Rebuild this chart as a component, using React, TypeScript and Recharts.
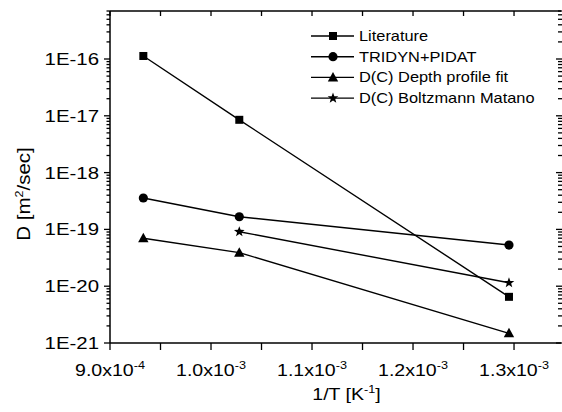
import React from 'react';
import { LineChart, Line, XAxis, YAxis, Legend } from 'recharts';

const FONT = '"Liberation Sans", Arial, Helvetica, sans-serif';

// 1/T values (K^-1) of the three measurement temperatures
const invT = [9.33e-4, 1.028e-3, 1.295e-3];

// diffusion coefficients D [m^2/sec]
const literature = [1.13e-16, 8.5e-18, 6.5e-21];
const tridynPidat = [3.57e-19, 1.67e-19, 5.3e-20];
const depthProfileFit = [7.0e-20, 3.9e-20, 1.48e-21];
const boltzmannMatano = [null, 9.1e-20, 1.15e-20];

const seriesNames = ['Literature', 'TRIDYN+PIDAT', 'D(C) Depth profile fit', 'D(C) Boltzmann Matano'];
const seriesMarkers = ['square', 'circle', 'triangle', 'star'];

const xMajorTicks = [9.0e-4, 1.0e-3, 1.1e-3, 1.2e-3, 1.3e-3];
const xMinorTicks = [9.5e-4, 1.05e-3, 1.15e-3, 1.25e-3];
const yMajorTicks = [1e-21, 1e-20, 1e-19, 1e-18, 1e-17, 1e-16];

const xDomain = [9.0e-4, 1.3465e-3];
const yDomain = [1e-21, 7e-16];

const data = invT.map((x, i) => ({
  x,
  literature: literature[i],
  tridyn: tridynPidat[i],
  depth: depthProfileFit[i],
  boltzmann: boltzmannMatano[i],
}));

// minor log ticks 2..9 x 10^n inside the domain
const yTicks: number[] = [];
yMajorTicks.forEach((m) => {
  yTicks.push(m);
  for (let k = 2; k <= 9; k++) {
    const v = k * m;
    if (v <= yDomain[1]) yTicks.push(v);
  }
});
const xTicks = [...xMajorTicks, ...xMinorTicks].sort((a, b) => a - b);

const isMajorX = (v: number) => xMajorTicks.some((m) => Math.abs(m - v) < 1e-9);
const isMajorY = (v: number) => yMajorTicks.some((m) => Math.abs(m / v - 1) < 1e-6);

const Marker = ({ kind, cx, cy }: { kind: string; cx: number; cy: number }) => {
  if (kind === 'square') return <rect x={cx - 4} y={cy - 4} width={8} height={8} fill="#000" />;
  if (kind === 'circle') return <circle cx={cx} cy={cy} r={4.6} fill="#000" />;
  if (kind === 'triangle')
    return <polygon points={`${cx},${cy - 5.5} ${cx - 5.2},${cy + 4} ${cx + 5.2},${cy + 4}`} fill="#000" />;
  const pts: string[] = [];
  for (let i = 0; i < 10; i++) {
    const r = i % 2 === 0 ? 5.6 : 2.3;
    const a = -Math.PI / 2 + (i * Math.PI) / 5;
    pts.push(`${cx + r * Math.cos(a)},${cy + r * Math.sin(a)}`);
  }
  return <polygon points={pts.join(' ')} fill="#000" />;
};

const renderDot = (kind: string) => (props: any) => {
  const { cx, cy, index } = props;
  if (cx == null || cy == null || props.value == null) return <g key={`${kind}-${index}`} />;
  return (
    <g key={`${kind}-${index}`}>
      <Marker kind={kind} cx={cx} cy={cy} />
    </g>
  );
};

const BottomTick = (props: any) => {
  const { x, y, payload } = props;
  const v = payload.value;
  const major = isMajorX(v);
  const exp = Math.floor(Math.log10(v) + 1e-9);
  const mant = (v / Math.pow(10, exp)).toFixed(1);
  return (
    <g>
      <line x1={x} y1={y} x2={x} y2={y + 7} stroke="#000" strokeWidth={1.3} />
      {major && (
        <text transform={`translate(${x},${y + 33}) scale(1.15,1)`} textAnchor="middle" fontSize={17} fontFamily={FONT} fill="#000">
          <tspan>{`${mant}x10`}</tspan>
          <tspan dy={-7} fontSize={11}>{`${exp}`}</tspan>
        </text>
      )}
    </g>
  );
};

const TopTick = (props: any) => {
  const { x, y } = props;
  return <line x1={x} y1={y} x2={x} y2={y + 5} stroke="#000" strokeWidth={1.3} />;
};

const LeftTick = (props: any) => {
  const { x, y, payload } = props;
  const v = payload.value;
  const major = isMajorY(v);
  return (
    <g>
      <line x1={x - (major ? 6 : 3.5)} y1={y} x2={x} y2={y} stroke="#000" strokeWidth={1.3} />
      {major && (
        <text transform={`translate(${x - 11},${y + 6}) scale(1.2,1)`} textAnchor="end" fontSize={17} fontFamily={FONT} fill="#000">
          {`1E${Math.round(Math.log10(v))}`}
        </text>
      )}
    </g>
  );
};

const RightTick = (props: any) => {
  const { x, y, payload } = props;
  const major = isMajorY(payload.value);
  return <line x1={x - (major ? 5 : 3)} y1={y} x2={x + 1} y2={y} stroke="#000" strokeWidth={1.3} />;
};

const XTitle = (props: any) => {
  const { x, y, width } = props.viewBox;
  return (
    <text transform={`translate(${x + width / 2 + 11},${y + 57}) scale(1.15,1)`} textAnchor="middle" fontSize={17} fontFamily={FONT} fill="#000">
      <tspan>1/T [K</tspan>
      <tspan dy={-7} fontSize={11}>-1</tspan>
      <tspan dy={7}>]</tspan>
    </text>
  );
};

const YTitle = (props: any) => {
  const { y, height } = props.viewBox;
  return (
    <text transform={`translate(30,${y + height / 2 + 17}) rotate(-90) scale(1.14,1)`} textAnchor="middle" fontSize={18} fontFamily={FONT} fill="#000">
      <tspan>D [m</tspan>
      <tspan dy={-7} fontSize={11}>2</tspan>
      <tspan dy={7}>/sec]</tspan>
    </text>
  );
};

const LegendBox = () => (
  <svg width={250} height={90}>
    {seriesNames.map((name, i) => {
      const cy = 10 + i * 20.7;
      return (
        <g key={name}>
          <line x1={6} y1={cy} x2={49} y2={cy} stroke="#000" strokeWidth={1.4} />
          <Marker kind={seriesMarkers[i]} cx={28} cy={cy} />
          <text transform={`translate(54,${cy + 5}) scale(1.17,1)`} fontSize={14} fontFamily={FONT} fill="#000">
            {name}
          </text>
        </g>
      );
    })}
  </svg>
);

const App = () => {
  return (
    <div style={{ position: 'absolute', left: 0, top: 0, background: '#fff' }}>
      <LineChart width={562} height={412} data={data} margin={{ top: 10, right: 0, bottom: 0, left: 0 }}>
        <XAxis
          xAxisId="bottom"
          dataKey="x"
          type="number"
          domain={xDomain}
          allowDataOverflow
          ticks={xTicks}
          interval={0}
          height={69}
          tickSize={0}
          tickMargin={0}
          tickLine={false}
          tick={BottomTick}
          axisLine={{ stroke: '#000', strokeWidth: 1.5 }}
          label={<XTitle />}
        />
        <XAxis
          xAxisId="top"
          orientation="top"
          dataKey="x"
          type="number"
          domain={xDomain}
          allowDataOverflow
          ticks={xTicks}
          interval={0}
          height={1}
          tickSize={0}
          tickMargin={0}
          tickLine={false}
          tick={TopTick}
          axisLine={{ stroke: '#000', strokeWidth: 1.5 }}
        />
        <YAxis
          yAxisId="left"
          type="number"
          scale="log"
          domain={yDomain}
          allowDataOverflow
          ticks={yTicks}
          interval={0}
          width={110}
          tickSize={0}
          tickMargin={0}
          tickLine={false}
          tick={LeftTick}
          axisLine={{ stroke: '#000', strokeWidth: 1.5 }}
          label={<YTitle />}
        />
        <YAxis
          yAxisId="right"
          orientation="right"
          type="number"
          scale="log"
          domain={yDomain}
          allowDataOverflow
          ticks={yTicks}
          interval={0}
          width={1}
          tickSize={0}
          tickMargin={0}
          tickLine={false}
          tick={RightTick}
          axisLine={false}
        />
        <Legend
          layout="vertical"
          align="center"
          verticalAlign="middle"
          content={<LegendBox />}
          wrapperStyle={{ left: 305, top: 26, width: 250, height: 90 }}
        />
        {/* invisible series so the top and right frame axes get built */}
        <Line xAxisId="top" yAxisId="right" type="linear" dataKey="literature" stroke="none" dot={false} activeDot={false} legendType="none" isAnimationActive={false} />
        <Line xAxisId="bottom" yAxisId="left" type="linear" dataKey="literature" stroke="#000" strokeWidth={1.4} dot={renderDot('square')} activeDot={false} isAnimationActive={false} />
        <Line xAxisId="bottom" yAxisId="left" type="linear" dataKey="tridyn" stroke="#000" strokeWidth={1.4} dot={renderDot('circle')} activeDot={false} isAnimationActive={false} />
        <Line xAxisId="bottom" yAxisId="left" type="linear" dataKey="depth" stroke="#000" strokeWidth={1.4} dot={renderDot('triangle')} activeDot={false} isAnimationActive={false} />
        <Line xAxisId="bottom" yAxisId="left" type="linear" dataKey="boltzmann" stroke="#000" strokeWidth={1.4} dot={renderDot('star')} activeDot={false} isAnimationActive={false} />
      </LineChart>
    </div>
  );
};

export default App;
